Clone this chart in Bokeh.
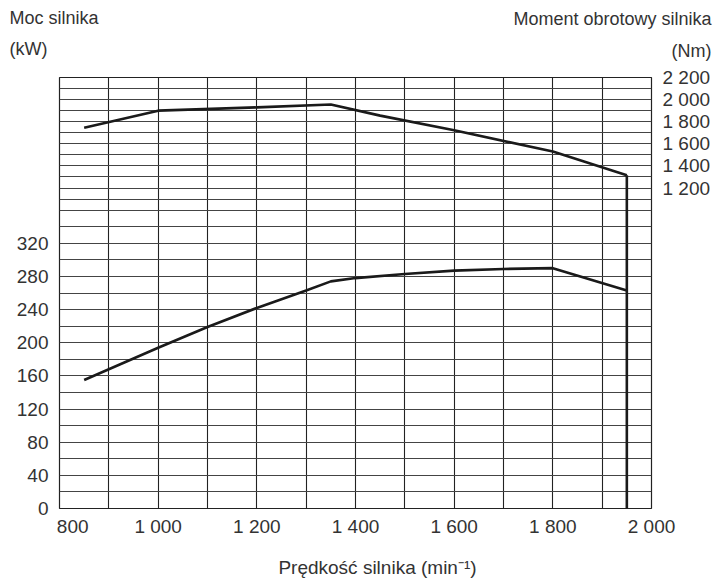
from bokeh.plotting import figure
from bokeh.layouts import column
from bokeh.models import Range1d, LinearAxis, FixedTicker, ColumnDataSource
from bokeh.core.properties import value
from bokeh.embed import file_html
from bokeh.resources import INLINE

# ---- data ----
rpm_power = [850, 900, 1000, 1100, 1200, 1300, 1350, 1400, 1500, 1600, 1700, 1800, 1950]
power_kw = [155, 168, 194, 219, 242, 263, 274, 278, 283, 287, 289, 290, 263]

rpm_torque = [850, 1000, 1200, 1350, 1450, 1600, 1800, 1950]
torque_nm = [1745, 1900, 1930, 1955, 1855, 1722, 1530, 1315]

x_ticks = [800, 1000, 1200, 1400, 1600, 1800, 2000]
x_tick_labels = ["\u00a0\u00a0\u00a0\u00a0\u00a0800", "1 000", "1 200", "1 400", "1 600", "1 800", "2 000"]
power_ticks = [0, 40, 80, 120, 160, 200, 240, 280, 320]
torque_ticks = [1200, 1400, 1600, 1800, 2000, 2200]
torque_tick_labels = ["1 200", "1 400", "1 600", "1 800", "2 000", "2 200"]

left_titles = ["Moc silnika", "(kW)"]
right_titles = ["Moment obrotowy silnika", "(Nm)"]
x_title = ["Prędkość silnika (min⁻¹)"]

# scale layout: lower band 0-360 kW (20 kW rows), upper band 1000-2200 Nm (100 Nm rows)
POWER_MAX = 520
TORQUE_LOW, TORQUE_HIGH = -1700, 2200
power_grid = list(range(0, 361, 20))
torque_grid = list(range(1100, 2201, 100))


def torque_to_power(t):
    return (t - TORQUE_LOW) / (TORQUE_HIGH - TORQUE_LOW) * POWER_MAX


FONT = "Liberation Sans"
TXT = "#333333"
W = 713
HEAD_H = 62
FOOT_H = 40


def text_strip(height):
    f = figure(width=W, height=height, x_range=Range1d(0, W), y_range=Range1d(height, 0),
               output_backend="svg", toolbar_location=None,
               x_axis_type=None, y_axis_type=None, min_border=0, frame_align=False)
    f.outline_line_color = None
    f.xgrid.visible = False
    f.ygrid.visible = False
    return f


# ---- header strip holding the two axis titles ----
head = text_strip(HEAD_H)
src_l = ColumnDataSource(dict(x=[9, 9], y=[17, 48], t=left_titles))
src_r = ColumnDataSource(dict(x=[711, 711], y=[18, 50], t=right_titles))
head.text(x="x", y="y", text="t", source=src_l, text_align="left", text_baseline="middle",
          text_font=value(FONT), text_font_size="18px", text_color=TXT)
head.text(x="x", y="y", text="t", source=src_r, text_align="right", text_baseline="middle",
          text_font=value(FONT), text_font_size="18px", text_color=TXT)

# ---- main chart ----
p = figure(frame_width=592, frame_height=431,
           x_range=Range1d(800, 2000), y_range=Range1d(0, POWER_MAX),
           output_backend="svg", toolbar_location=None, frame_align=False,
           min_border_left=59, min_border_right=62,
           min_border_top=15, min_border_bottom=32)
p.extra_y_ranges = {"torque": Range1d(TORQUE_LOW, TORQUE_HIGH)}

p.background_fill_color = "white"
p.border_fill_color = "white"
p.outline_line_color = "#222222"
p.outline_line_width = 1.2

# grids
p.xgrid.ticker = FixedTicker(ticks=list(range(800, 2001, 100)))
p.xgrid.grid_line_color = "#222222"
p.xgrid.grid_line_width = 1.1
p.ygrid.ticker = FixedTicker(ticks=power_grid + [torque_to_power(t) for t in torque_grid])
p.ygrid.grid_line_color = "#444444"
p.ygrid.grid_line_width = 1.2

# axes
right_axis = LinearAxis(y_range_name="torque")
p.add_layout(right_axis, "right")

for ax in [p.xaxis[0], p.yaxis[0], right_axis]:
    ax.axis_line_color = None
    ax.major_tick_line_color = None
    ax.minor_tick_line_color = None
    ax.major_tick_out = 0
    ax.major_tick_in = 0
    ax.major_label_text_font = FONT
    ax.major_label_text_font_size = "19px"
    ax.major_label_text_color = TXT

p.xaxis[0].ticker = FixedTicker(ticks=x_ticks)
p.xaxis[0].major_label_overrides = dict(zip(x_ticks, x_tick_labels))
p.xaxis[0].major_label_standoff = 7

p.yaxis[0].ticker = FixedTicker(ticks=power_ticks)
p.yaxis[0].major_label_standoff = 11

right_axis.ticker = FixedTicker(ticks=torque_ticks)
right_axis.major_label_overrides = dict(zip(torque_ticks, torque_tick_labels))
right_axis.major_label_standoff = 11

# curves
p.line(rpm_power, power_kw, line_color="#1a1a1a", line_width=2.6, line_join="round")
p.line(rpm_torque, torque_nm, y_range_name="torque", line_color="#1a1a1a", line_width=2.6,
       line_join="round")
# governor cut-off line at the last rpm, from torque end to bottom of chart
cut = rpm_torque[-1]
p.line([cut, cut], [torque_nm[-1], TORQUE_LOW], y_range_name="torque",
       line_color="#1a1a1a", line_width=2.6)

# ---- footer strip holding the x-axis title ----
foot = text_strip(FOOT_H)
src_x = ColumnDataSource(dict(x=[377], y=[27], t=x_title))
foot.text(x="x", y="y", text="t", source=src_x, text_align="center", text_baseline="middle",
          text_font=value(FONT), text_font_size="19px", text_color=TXT)

layout = column(head, p, foot, spacing=0)
open("out.html", "w").write(file_html(layout, INLINE))
